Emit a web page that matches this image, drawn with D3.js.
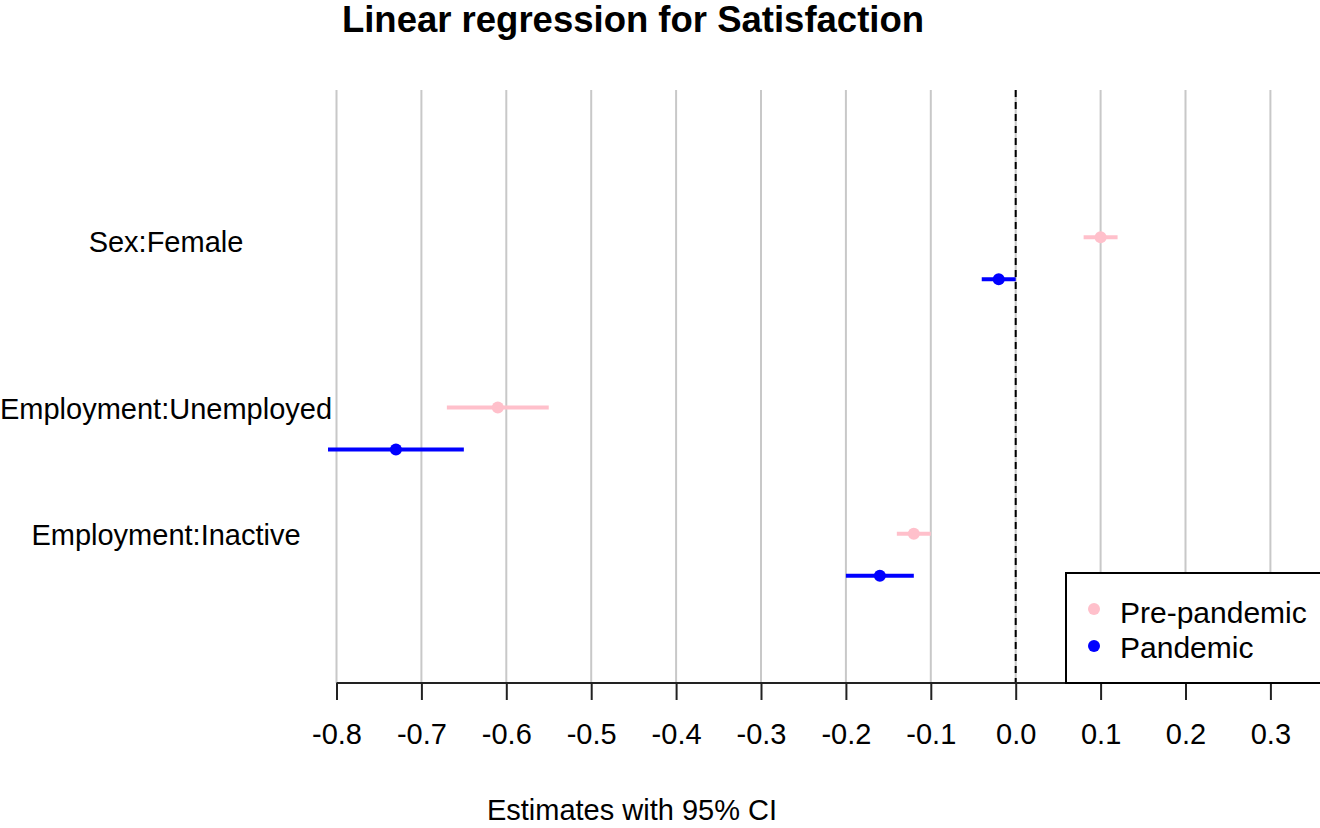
<!DOCTYPE html>
<html lang="en">
<head>
  <meta charset="UTF-8">
  <title>Linear regression for Satisfaction</title>
  <script src="https://d3js.org/d3.v7.min.js"></script>
  <style>
    body {
      margin: 0;
      background-color: #ffffff;
      font-family: 'Liberation Sans', Arial, sans-serif;
    }
    svg {
      display: block;
    }
  </style>
</head>
<body>
  <svg id="chart" width="1320" height="828"></svg>

  <script>
    // Terms and their row positions (top to bottom)
    const terms = ["Sex:Female", "Employment:Unemployed", "Employment:Inactive"];
    const termRow = [3.5, 7.55, 10.55];

    // Estimates with 95% CI
    const preEstimate = [0.10, -0.61, -0.12];
    const preLower = [0.08, -0.67, -0.14];
    const preUpper = [0.12, -0.55, -0.10];

    const panEstimate = [-0.02, -0.73, -0.16];
    const panLower = [-0.04, -0.81, -0.20];
    const panUpper = [0.00, -0.65, -0.12];

    const xTicks = [-0.8, -0.7, -0.6, -0.5, -0.4, -0.3, -0.2, -0.1, 0.0, 0.1, 0.2, 0.3];
    const seriesNames = ["Pre-pandemic", "Pandemic"];
    const seriesColors = ["pink", "blue"];

    const svg = d3.select("#chart");

    const x = d3.scaleLinear().domain([-0.8, 0.3]).range([336.5, 1270.4]);
    const y = d3.scaleLinear().domain([0, 14.1]).range([90, 683]);
    const plotTop = 90, plotBottom = 683;

    // gridlines
    svg.append("g")
      .selectAll("line")
      .data(xTicks)
      .enter().append("line")
      .attr("x1", d => x(d)).attr("x2", d => x(d))
      .attr("y1", plotTop).attr("y2", plotBottom)
      .attr("stroke", "#c8c8c8")
      .attr("stroke-width", 2);

    // zero reference line
    svg.append("line")
      .attr("x1", x(0)).attr("x2", x(0))
      .attr("y1", plotTop).attr("y2", plotBottom)
      .attr("stroke", "#000")
      .attr("stroke-width", 2)
      .attr("stroke-dasharray", "7,5");

    // x axis
    const xAxis = d3.axisBottom(x)
      .tickValues(xTicks)
      .tickSize(17)
      .tickPadding(23)
      .tickFormat(d3.format(".1f"));

    const axisG = svg.append("g")
      .attr("transform", `translate(0,${plotBottom})`)
      .call(xAxis);
    axisG.select(".domain").attr("stroke", "#222").attr("stroke-width", 2)
      .attr("d", `M${x(-0.8)},0H${x(0.3)}`);
    axisG.selectAll(".tick line").attr("stroke", "#222").attr("stroke-width", 2);
    axisG.selectAll(".tick text")
      .attr("fill", "#000")
      .style("font-size", "29px")
      .style("font-family", "'Liberation Sans', Arial, sans-serif")
      .text(d => d3.format(".1f")(d).replace("−", "-"));

    // CI segments and points
    const series = [
      { est: preEstimate, lo: preLower, hi: preUpper, offset: 0, color: seriesColors[0] },
      { est: panEstimate, lo: panLower, hi: panUpper, offset: 1, color: seriesColors[1] }
    ];

    series.forEach(s => {
      const rows = terms.map((t, i) => ({ term: t, row: termRow[i] + s.offset, est: s.est[i], lo: s.lo[i], hi: s.hi[i] }));
      const g = svg.append("g");
      g.selectAll("line")
        .data(rows)
        .enter().append("line")
        .attr("x1", d => x(d.lo)).attr("x2", d => x(d.hi))
        .attr("y1", d => y(d.row)).attr("y2", d => y(d.row))
        .attr("stroke", s.color)
        .attr("stroke-width", 4);
      g.selectAll("circle")
        .data(rows)
        .enter().append("circle")
        .attr("cx", d => x(d.est))
        .attr("cy", d => y(d.row))
        .attr("r", 6)
        .attr("fill", s.color);
    });

    // term labels
    svg.append("g")
      .selectAll("text")
      .data(terms)
      .enter().append("text")
      .attr("x", 166)
      .attr("y", (d, i) => y(termRow[i]) + (i === 0 ? 15 : 11))
      .attr("text-anchor", "middle")
      .style("font-size", "29px")
      .text(d => d);

    // title and axis label
    svg.append("text")
      .attr("x", 633).attr("y", 32)
      .attr("text-anchor", "middle")
      .style("font-size", "36.5px")
      .style("font-weight", "bold")
      .text("Linear regression for Satisfaction");

    svg.append("text")
      .attr("x", 632).attr("y", 820)
      .attr("text-anchor", "middle")
      .style("font-size", "29px")
      .text("Estimates with 95% CI");

    // legend
    const legend = svg.append("g");
    legend.append("rect")
      .attr("x", 1066).attr("y", 573)
      .attr("width", 280).attr("height", 110)
      .attr("fill", "#fff")
      .attr("stroke", "#000")
      .attr("stroke-width", 2);

    seriesNames.forEach((name, i) => {
      legend.append("circle")
        .attr("cx", 1094).attr("cy", 609 + i * 37)
        .attr("r", 6)
        .attr("fill", seriesColors[i]);
      legend.append("text")
        .attr("x", 1120).attr("y", 623 + i * 35)
        .style("font-size", "30px")
        .text(name);
    });
  </script>
</body>
</html>
